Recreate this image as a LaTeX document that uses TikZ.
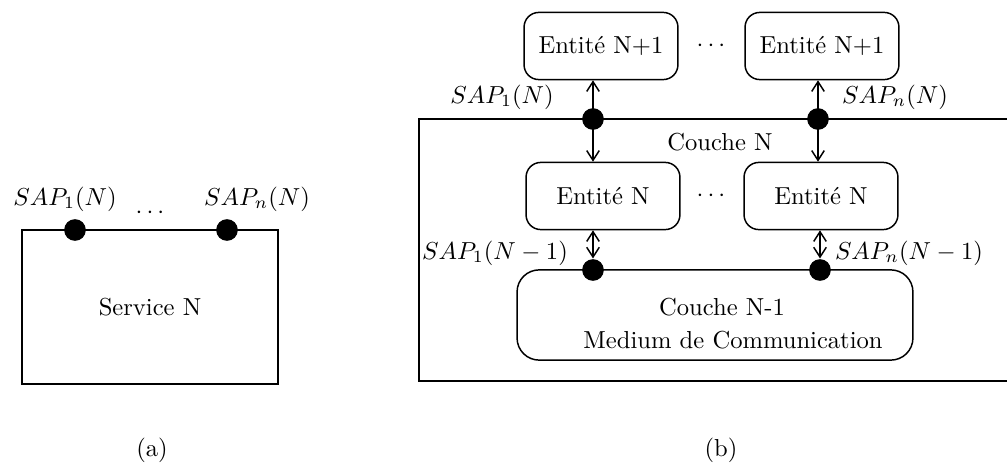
\documentclass[tikz,border=0pt]{standalone}
\usepackage{tikz}
\usetikzlibrary{arrows.meta}

\begin{document}
\begin{tikzpicture}[x=0.0143cm, y=-0.0143cm, line width=0.6pt,
    >={Straight Barb[length=1.4mm,width=1.8mm]},
    entity/.style={draw, rounded corners=6pt, minimum width=2.2cm, minimum height=0.96cm},
    sapdot/.style={circle, fill, inner sep=0pt, minimum size=0.31cm},
    lbl/.style={inner sep=1pt}]
        \useasboundingbox (0,0) rectangle (1007,466);
        % (a) : le service N
        \node[draw, minimum width=3.66cm, minimum height=2.2cm] (service) at (150,307) {Service N};
        \node[sapdot] (sapa1) at (75,230) {};
        \node[sapdot] (sapan) at (227,230) {};
        \node[lbl] (laba1) at (65,199) {$SAP_1(N)$};
        \node[lbl] (laban) at (257,199) {$SAP_n(N)$};
        \node (dotsa) at (150,213) {$\cdots$};
        \node (capa) at (152,450) {(a)};
        % (b) : la couche N
        \draw (1007,119) -- (419,119) -- (419,381) -- (1007,381);
        \node (couche) at (720,142) {Couche N};
        \node[entity] (e1l) at (601,46) {Entit\'e N+1};
        \node[entity] (e1r) at (822,46) {Entit\'e N+1};
        \node (dotsb1) at (711,46) {$\cdots$};
        \node[entity] (enl) at (603,196) {Entit\'e N};
        \node[entity] (enr) at (821,196) {Entit\'e N};
        \node (dotsb2) at (711,196) {$\cdots$};
        \node[draw, rounded corners=9pt, minimum width=5.66cm, minimum height=1.29cm] (medium) at (715,315) {};
        \node (couchem) at (722,307) {Couche N-1};
        \node (commun) at (733,340) {Medium de Communication};
        \coordinate (s1) at (593,119);
        \coordinate (sn) at (818,119);
        \coordinate (m1) at (593,270);
        \coordinate (mn) at (820,270);
        \draw[<->] (e1l.south -| s1) -- (enl.north -| s1);
        \draw[<->] (e1r.south -| sn) -- (enr.north -| sn);
        \node[sapdot] (sapb1) at (s1) {};
        \node[sapdot] (sapbn) at (sn) {};
        \node[sapdot] (sapm1) at (m1) {};
        \node[sapdot] (sapmn) at (mn) {};
        \draw[<->] (enl.south -| m1) -- (sapm1.north);
        \draw[<->] (enr.south -| mn) -- (sapmn.north);
        \node[lbl] (labb1) at (502,97) {$SAP_1(N)$};
        \node[lbl] (labbn) at (895,97) {$SAP_n(N)$};
        \node[lbl] (labm1) at (495,253) {$SAP_1(N-1)$};
        \node[lbl] (labmn) at (909,253) {$SAP_n(N-1)$};
        \node (capb) at (721,450) {(b)};
\end{tikzpicture}
\end{document}
